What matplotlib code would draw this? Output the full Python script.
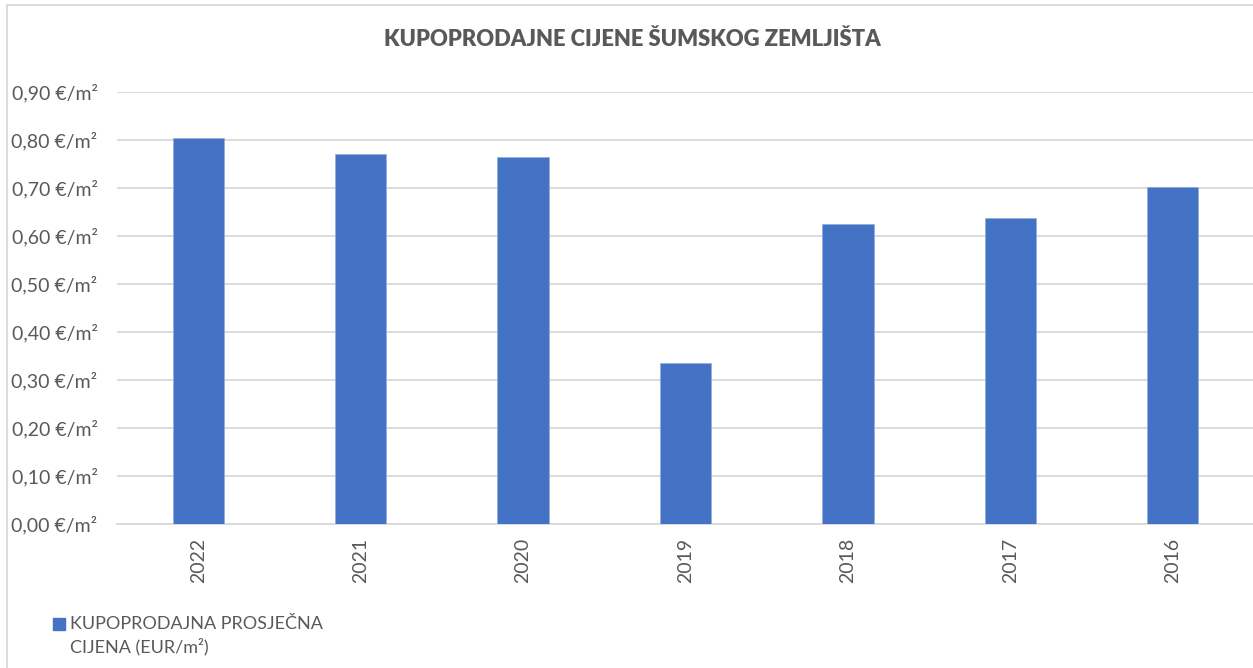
import matplotlib.pyplot as plt
from matplotlib.patches import Rectangle
from matplotlib.lines import Line2D
from matplotlib.ticker import FuncFormatter, MultipleLocator

plt.rcParams['font.family'] = ['Lato', 'DejaVu Sans']

years = ['2022', '2021', '2020', '2019', '2018', '2017', '2016']
prices = [0.804, 0.771, 0.765, 0.335, 0.624, 0.637, 0.702]

title = 'KUPOPRODAJNE CIJENE ŠUMSKOG ZEMLJIŠTA'
series_label = ['KUPOPRODAJNA PROSJEČNA', 'CIJENA (EUR/m²)']

BLUE = '#4472C4'
GREY_TXT = '#595959'
GRID = '#D9D9D9'

W, H = 1253, 668
fig = plt.figure(figsize=(W / 100, H / 100), dpi=100)

# plot area in pixel coords -> figure fractions
left, right, top, bottom = 117, 1254, 92, 524
ax = fig.add_axes([left / W, 1 - bottom / H, (right - left) / W, (bottom - top) / H])

x = range(len(years))
ax.bar(x, prices, width=0.315, color=BLUE, edgecolor='#8FAADC', linewidth=0.4, zorder=3)

ax.set_xlim(-0.5, len(years) - 0.5)
ax.set_ylim(0, 0.9)
ax.yaxis.set_major_locator(MultipleLocator(0.1))
ax.yaxis.set_major_formatter(FuncFormatter(lambda v, p: f'{v:.2f}'.replace('.', ',') + ' €/m²'))
ax.set_xticks(list(x))
ax.set_xticklabels(years, rotation=90)

ax.grid(axis='y', color=GRID, linewidth=1.3, zorder=0)
for s in ['top', 'right', 'left']:
    ax.spines[s].set_visible(False)
ax.spines['bottom'].set_color(GRID)
ax.spines['bottom'].set_linewidth(1.3)

ax.tick_params(axis='y', length=0, pad=14, labelsize=14, labelcolor=GREY_TXT)
ax.tick_params(axis='x', length=0, pad=10, labelsize=14, labelcolor=GREY_TXT)

fig.text(632 / W, 1 - 40 / H, title, ha='center', va='center',
         fontsize=15.8, fontweight='heavy', color=GREY_TXT)

# legend drawn by hand so the square sits next to the first line
fig.patches.append(Rectangle((53 / W, 1 - 630 / H), 12 / W, 12 / H,
                             transform=fig.transFigure, color=BLUE))
for i, line in enumerate(series_label):
    fig.text(70 / W, 1 - (624 + 23 * i) / H, line, ha='left', va='center',
             fontsize=13, color=GREY_TXT)

# chart frame (left and top edges visible)
fig.add_artist(Line2D([7 / W, 7 / W], [0, 1 - 5 / H], color=GRID, linewidth=1.3))
fig.add_artist(Line2D([7 / W, 1], [1 - 5 / H, 1 - 5 / H], color=GRID, linewidth=1.3))

fig.savefig('out.png', dpi=100, facecolor='white')
